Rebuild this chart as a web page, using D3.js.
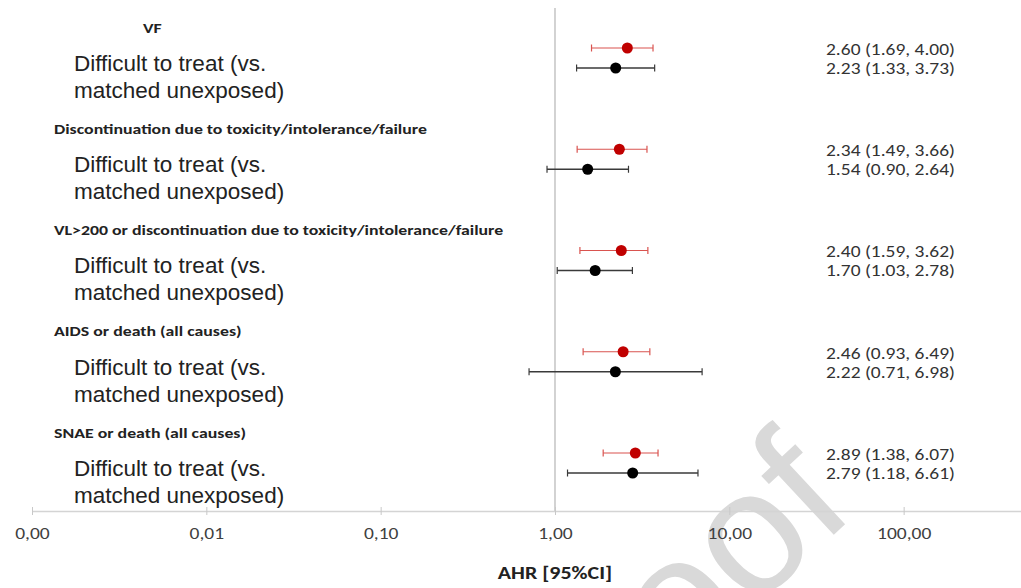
<!DOCTYPE html>
<html>
<head>
<meta charset="utf-8">
<script src="https://cdn.jsdelivr.net/npm/d3@7"></script>
<style>
  body { margin: 0; background: #fff; }
  svg { display: block; }
</style>
</head>
<body>
<svg id="chart"></svg>
<script>
// outcomes (group headings) and comparison label
var outcomes = ["VF",
  "Discontinuation due to toxicity/intolerance/failure",
  "VL>200 or discontinuation due to toxicity/intolerance/failure",
  "AIDS or death (all causes)",
  "SNAE or death (all causes)"];
var comparison = ["Difficult to treat (vs.", "matched unexposed)"];

// red series (as drawn)
var redAHR = [2.60, 2.34, 2.40, 2.46, 2.89];
var redLo  = [1.62, 1.34, 1.39, 1.45, 1.89];
var redHi  = [3.65, 3.37, 3.41, 3.50, 3.90];
// black series
var blackAHR = [2.23, 1.54, 1.70, 2.22, 2.79];
var blackLo  = [1.33, 0.90, 1.03, 0.71, 1.18];
var blackHi  = [3.73, 2.64, 2.78, 6.98, 6.61];

var redLabels   = ["2.60 (1.69, 4.00)", "2.34 (1.49, 3.66)", "2.40 (1.59, 3.62)", "2.46 (0.93, 6.49)", "2.89 (1.38, 6.07)"];
var blackLabels = ["2.23 (1.33, 3.73)", "1.54 (0.90, 2.64)", "1.70 (1.03, 2.78)", "2.22 (0.71, 6.98)", "2.79 (1.18, 6.61)"];

var tickVals = [0.001, 0.01, 0.1, 1, 10, 100];
var axisTitle = "AHR [95%CI]";
var watermark = "Journal Pre-proof";

var W = 1021, H = 588;
var svg = d3.select("#chart").attr("width", W).attr("height", H);

var x = d3.scaleLog().domain([0.001, 1000]).range([32, 32 + 6 * 174.33]);
var y = d3.scalePoint().domain(d3.range(outcomes.length)).range([48, 453]);
var off = 20; // black row below red row

var numFont = "Carlito, Lato, 'Open Sans', sans-serif";

// text stretched horizontally like the source image
function stretchText(sel, px, py, sx){
  return sel.attr("transform", "translate(" + px + "," + py + ") scale(" + sx + ",1)");
}

// watermark
svg.append("text")
  .attr("transform", "translate(858,512) rotate(-43)")
  .attr("text-anchor", "end")
  .attr("font-family", "'Liberation Sans', Arial, sans-serif")
  .attr("font-size", 175)
  .attr("fill", "#d9d9d9")
  .text(watermark);

// reference line at 1
svg.append("line")
  .attr("x1", x(1)).attr("x2", x(1))
  .attr("y1", 8).attr("y2", 511)
  .attr("stroke", "#c4c4c4").attr("stroke-width", 1.5);

// x axis
var axis = d3.axisBottom(x)
  .tickValues(tickVals)
  .tickSizeInner(4)
  .tickSizeOuter(0)
  .tickFormat(function(d){ return d3.format(".2f")(d).replace(".", ","); });
var gx = svg.append("g").attr("transform", "translate(0,511)").call(axis);
gx.select(".domain").attr("stroke", "#d4d4d4").attr("stroke-width", 1.5);
gx.selectAll(".tick line").attr("y1", -4).attr("y2", 4).attr("stroke", "#c8c8c8");
gx.selectAll(".tick text")
  .attr("y", null)
  .attr("dy", "0.35em")
  .attr("transform", "translate(0,22) scale(1.22,1)")
  .attr("font-family", numFont)
  .attr("font-size", 16)
  .attr("fill", "#404040");

stretchText(svg.append("text"), x(1), 573, 1.22)
  .attr("dy", "0.35em")
  .attr("text-anchor", "middle")
  .attr("font-family", numFont)
  .attr("font-weight", "bold")
  .attr("font-size", 18)
  .attr("fill", "#222")
  .text(axisTitle);

// left labels
var groups = svg.selectAll(".grp").data(outcomes).enter().append("g").attr("class", "grp");

groups.append("text")
  .attr("transform", function(d, i){
    return "translate(" + (i === 0 ? 143 : 54) + "," + (y(i) - 20) + ") scale(1.32,1)";
  })
  .attr("dy", "0.35em")
  .attr("font-family", numFont)
  .attr("font-weight", "bold")
  .attr("font-size", 13.5)
  .attr("fill", "#222")
  .text(function(d){ return d; });

comparison.forEach(function(line, k){
  groups.append("text")
    .attr("x", 74)
    .attr("y", function(d, i){ return y(i) + 15 + k * 27; })
    .attr("dy", "0.35em")
    .attr("font-family", "'Liberation Sans', Arial, sans-serif")
    .attr("font-size", 22.5)
    .attr("fill", "#222")
    .text(line);
});

// error bars and points
function drawSeries(mid, lo, hi, dy, lineCol, lineW, dotCol, r){
  var g = svg.append("g");
  var rows = g.selectAll("g").data(mid).enter().append("g")
    .attr("transform", function(d, i){ return "translate(0," + (y(i) + dy) + ")"; });
  rows.append("line")
    .attr("x1", function(d, i){ return x(lo[i]); })
    .attr("x2", function(d, i){ return x(hi[i]); })
    .attr("stroke", lineCol).attr("stroke-width", lineW);
  rows.append("line")
    .attr("x1", function(d, i){ return x(lo[i]); })
    .attr("x2", function(d, i){ return x(lo[i]); })
    .attr("y1", -3.5).attr("y2", 3.5)
    .attr("stroke", lineCol).attr("stroke-width", 1.2);
  rows.append("line")
    .attr("x1", function(d, i){ return x(hi[i]); })
    .attr("x2", function(d, i){ return x(hi[i]); })
    .attr("y1", -3.5).attr("y2", 3.5)
    .attr("stroke", lineCol).attr("stroke-width", 1.2);
  rows.append("circle")
    .attr("cx", function(d){ return x(d); })
    .attr("r", r)
    .attr("fill", dotCol);
}
drawSeries(redAHR, redLo, redHi, 0, "#d9534f", 1.1, "#c00000", 5.5);
drawSeries(blackAHR, blackLo, blackHi, off, "#3a3a3a", 1.6, "#000", 5.5);

// right-hand estimates
function drawLabels(lbls, dy){
  svg.append("g").selectAll("text").data(lbls).enter().append("text")
    .attr("transform", function(d, i){ return "translate(826," + (y(i) + dy) + ") scale(1.18,1)"; })
    .attr("dy", "0.35em")
    .attr("font-family", numFont)
    .attr("font-size", 16.5)
    .attr("fill", "#333")
    .text(function(d){ return d; });
}
drawLabels(redLabels, 1);
drawLabels(blackLabels, off);
</script>
</body>
</html>
